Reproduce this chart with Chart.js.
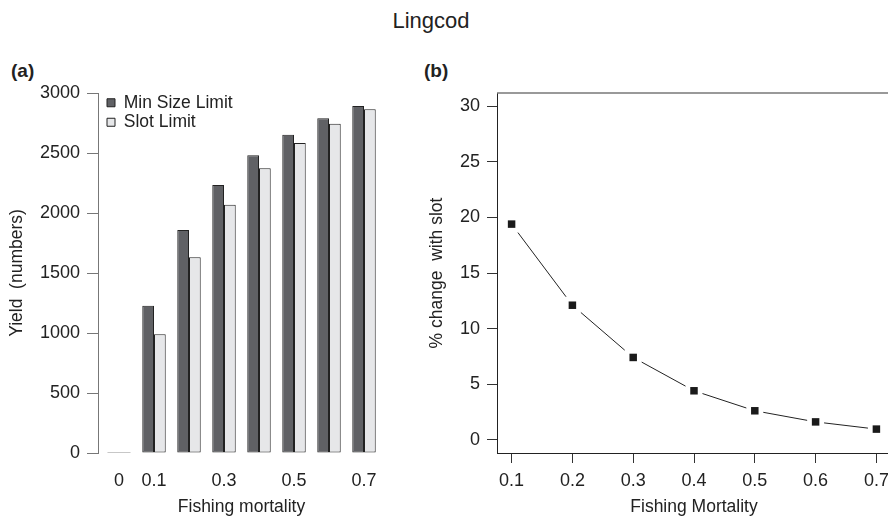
<!DOCTYPE html>
<html>
<head>
<meta charset="utf-8">
<script src="https://cdn.jsdelivr.net/npm/chart.js@4.4.1/dist/chart.umd.min.js"></script>
<style>
  html, body { margin: 0; padding: 0; background: #fff; overflow: hidden; }
  body { width: 888px; height: 518px; position: relative; font-family: 'Liberation Sans', Arial, sans-serif; color: #222; }
  .txt { position: absolute; white-space: nowrap; line-height: 1; }
  #yieldChart { position: absolute; left: 0; top: 0; }
  #changeChart { position: absolute; left: 420px; top: 0; }
</style>
</head>
<body>
<div class="txt" style="left:0;width:862px;top:10px;text-align:center;font-size:22px;">Lingcod</div>
<div class="txt" style="left:11px;top:61px;font-size:19px;font-weight:bold;">(a)</div>
<div class="txt" style="left:424px;top:61px;font-size:19px;font-weight:bold;">(b)</div>
<canvas id="yieldChart" width="444" height="518"></canvas>
<canvas id="changeChart" width="480" height="518"></canvas>
<script>
// fishing mortality values
var fishingF = [0, 0.1, 0.2, 0.3, 0.4, 0.5, 0.6, 0.7];
var minSizeYield = [0, 1227, 1858, 2233, 2481, 2653, 2789, 2892];
var slotYield = [0, 989, 1631, 2069, 2372, 2583, 2744, 2864];
var yieldTicks = [0, 500, 1000, 1500, 2000, 2500, 3000];
var fTicksA = [0, 0.1, 0.3, 0.5, 0.7];

var fishingF2 = [0.1, 0.2, 0.3, 0.4, 0.5, 0.6, 0.7];
var pctChange = [19.4, 12.1, 7.4, 4.4, 2.6, 1.6, 0.95];
var pctTicks = [0, 5, 10, 15, 20, 25, 30];
var fTicksB = [0.1, 0.2, 0.3, 0.4, 0.5, 0.6, 0.7];

Chart.defaults.font.family = 'Liberation Sans, Arial, sans-serif';
Chart.defaults.font.size = 17.5;
Chart.defaults.color = '#222';

function pairs(xs, ys) {
  return xs.map(function (x, i) { return {x: x, y: ys[i]}; });
}
function setTicks(list) {
  return function (scale) {
    scale.ticks = list.map(function (v) { return {value: v}; });
  };
}
function plain(v) { return String(v); }
// fixed axis sizes, no extra room for overhanging tick labels
function fixHeight(h) {
  return function (s) { s.height = h; s.paddingLeft = 0; s.paddingRight = 0; };
}
function fixWidth(w) {
  return function (s) { s.width = w; s.paddingTop = 0; s.paddingBottom = 0; };
}

// legend sits inside the plot, top left (v4 resets its top for column legends)
var legendSpot = {
  id: 'legendSpot',
  afterLayout: function (c) {
    var l = c.legend, a = c.chartArea;
    if (!l) return;
    l.left = a.left + 7;
    l.top = a.top - 1;
    l.bottom = l.top + l.height;
  }
};

// panel (a)
var ctx = document.getElementById('yieldChart').getContext('2d');
var chart = new Chart(ctx, {
  type: 'bar',
  data: {
    datasets: [{
      label: 'Min Size Limit',
      data: pairs(fishingF, minSizeYield),
      backgroundColor: '#606165',
      borderColor: '#222',
      borderWidth: 1,
      borderSkipped: false,
      minBarLength: 1
    }, {
      label: 'Slot Limit',
      data: pairs(fishingF, slotYield),
      backgroundColor: '#e6e7e9',
      borderColor: '#222',
      borderWidth: 1,
      borderSkipped: false,
      minBarLength: 1
    }]
  },
  options: {
    responsive: false,
    animation: false,
    layout: { autoPadding: false, padding: { top: 93, right: 59, bottom: 0, left: 0 } },
    categoryPercentage: 0.67,
    barPercentage: 1,
    plugins: {
      tooltip: { enabled: false },
      legend: {
        position: 'chartArea',
        align: 'start',
        labels: { boxWidth: 8, boxHeight: 8, padding: 2, color: '#222', font: { size: 17.5 } }
      }
    },
    scales: {
      x: {
        type: 'linear',
        offset: false,
        min: -0.06,
        max: 0.76,
        afterBuildTicks: setTicks(fTicksA),
        afterFit: fixHeight(65),
        grid: { display: false, drawTicks: false },
        border: { display: false },
        ticks: { padding: 17, color: '#222', font: { size: 18 }, callback: plain },
        title: { display: true, text: 'Fishing mortality', color: '#222', padding: { top: 0, bottom: 0 } }
      },
      y: {
        min: 0,
        max: 3000,
        afterBuildTicks: setTicks(yieldTicks),
        afterFit: fixWidth(98),
        grid: { drawOnChartArea: false, tickLength: 11, color: '#777' },
        border: { color: '#777' },
        ticks: { padding: 7, color: '#222', font: { size: 18 }, callback: plain },
        title: { display: true, text: 'Yield  (numbers)', color: '#222', padding: { top: 7, bottom: 0 } }
      }
    }
  },
  plugins: [legendSpot]
});

// frame on top and right of panel (b)
var framePlugin = {
  id: 'frame',
  afterDraw: function (c) {
    var a = c.chartArea, g = c.ctx;
    g.save();
    g.lineWidth = 1.5;
    g.strokeStyle = '#777';
    g.beginPath();
    g.moveTo(a.left, a.top);
    g.lineTo(a.right, a.top);
    g.stroke();
    g.strokeStyle = '#222';
    g.beginPath();
    g.moveTo(a.right, a.top);
    g.lineTo(a.right, a.bottom);
    g.stroke();
    g.restore();
  }
};

// panel (b)
var ctx2 = document.getElementById('changeChart').getContext('2d');
var chart2 = new Chart(ctx2, {
  type: 'line',
  data: {
    datasets: [{
      label: 'points',
      data: pairs(fishingF2, pctChange),
      showLine: false,
      pointStyle: 'rect',
      pointRadius: 5.3,
      pointBackgroundColor: '#1a1a1a',
      pointBorderWidth: 0,
      order: 0
    }, {
      label: 'line',
      data: pairs(fishingF2, pctChange),
      borderColor: '#222',
      borderWidth: 1,
      tension: 0,
      pointStyle: 'rect',
      pointRadius: 12,
      pointBackgroundColor: '#fff',
      pointBorderWidth: 0,
      order: 1
    }]
  },
  options: {
    responsive: false,
    animation: false,
    layout: { autoPadding: false, padding: { top: 93, right: 9, bottom: 0, left: 0 } },
    plugins: { legend: { display: false }, tooltip: { enabled: false } },
    scales: {
      x: {
        type: 'linear',
        min: 0.076,
        max: 0.724,
        afterBuildTicks: setTicks(fTicksB),
        afterFit: fixHeight(65),
        grid: { drawOnChartArea: false, tickLength: 10, color: '#333' },
        border: { color: '#222' },
        ticks: { padding: 7, color: '#222', font: { size: 18 }, callback: plain },
        title: { display: true, text: 'Fishing Mortality', color: '#222', padding: { top: 0, bottom: 0 } }
      },
      y: {
        min: -1.2,
        max: 31.2,
        afterBuildTicks: setTicks(pctTicks),
        afterFit: fixWidth(77),
        grid: { drawOnChartArea: false, tickLength: 10, color: '#333' },
        border: { color: '#222' },
        ticks: { padding: 7, color: '#222', font: { size: 18 }, callback: plain },
        title: { display: true, text: '% change  with slot', color: '#222', padding: { top: 7, bottom: 0 } }
      }
    }
  },
  plugins: [framePlugin]
});
</script>
</body>
</html>
